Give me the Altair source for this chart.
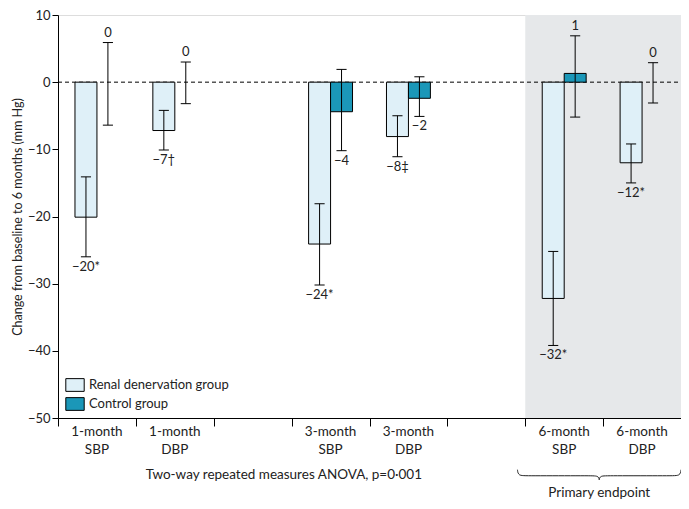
import altair as alt
import pandas as pd

# ---- data ----
slots = ["1-month\nSBP", "1-month\nDBP", "", "3-month\nSBP", "3-month\nDBP", "", "6-month\nSBP", "6-month\nDBP"]
outcomes = ["1-month\nSBP", "1-month\nDBP", "3-month\nSBP", "3-month\nDBP", "6-month\nSBP", "6-month\nDBP"]
groups = ["Renal denervation group", "Control group"]

renal_mean = [-20.1, -7.2, -24.1, -8.1, -32.2, -12.0]
renal_lo = [-26.0, -10.1, -30.2, -11.1, -39.2, -15.0]
renal_hi = [-14.1, -4.2, -18.1, -5.0, -25.2, -9.2]
renal_labels = ["−20*", "−7†", "−24*", "−8‡", "−32*", "−12*"]

control_mean = [0.0, 0.0, -4.4, -2.4, 1.3, 0.0]
control_lo = [-6.4, -3.2, -10.2, -5.1, -5.2, -3.1]
control_hi = [5.9, 3.0, 1.9, 0.8, 6.9, 2.9]
control_labels = ["0", "0", "−4", "−2", "1", "0"]

highlight = ["6-month\nSBP", "6-month\nDBP"]
anova_text = "Two-way repeated measures ANOVA, p=0·001"
primary_text = "Primary endpoint"

FONT = "Lato"
RENAL = "#dff0f8"
CONTROL = "#1b97b8"
BAND = "#e6e8ea"
INK = "#222"

BW = 0.282  # bar width in slot units
rows = []
for i, o in enumerate(outcomes):
    s = slots.index(o)
    c = s + 0.5
    rows.append(dict(group=groups[0], x0=c - BW, x1=c, xc=c - BW / 2, mean=renal_mean[i],
                     lo=renal_lo[i], hi=renal_hi[i], label=renal_labels[i]))
    rows.append(dict(group=groups[1], x0=c, x1=c + BW, xc=c + BW / 2, mean=control_mean[i],
                     lo=control_lo[i], hi=control_hi[i], label=control_labels[i]))
df = pd.DataFrame(rows)
df["cap0"] = df["xc"] - 0.065
df["cap1"] = df["xc"] + 0.065
df["above"] = df["mean"] >= 0

xs = alt.Scale(domain=[0, len(slots)], nice=False, zero=False)
ys = alt.Scale(domain=[-50, 10], nice=False, zero=False)

X = lambda f: alt.X(f, type="quantitative", scale=xs,
                    axis=alt.Axis(values=list(range(len(slots) + 1)), labels=False, title=None,
                                  grid=False, tickSize=8, domainColor="black", tickColor="black"))
Y = lambda f: alt.Y(f, type="quantitative", scale=ys,
                    axis=alt.Axis(values=list(range(-50, 11, 10)), title="Change from baseline to 6 months (mm Hg)",
                                  grid=False, tickSize=6, labelPadding=2, titlePadding=3,
                                  domainColor="black", tickColor="black", labelFont=FONT, titleFont=FONT,
                                  labelFontSize=13, titleFontSize=12.5, labelColor=INK, titleColor=INK,
                                  titleFontWeight="normal"))

# grey band behind primary endpoint
band_df = pd.DataFrame({"x0": [slots.index(highlight[0])], "x1": [slots.index(highlight[-1]) + 1],
                        "y0": [-50], "y1": [10]})
band = alt.Chart(band_df).mark_rect(color=BAND).encode(x=X("x0"), x2="x1", y=Y("y0"), y2="y1")

zero_df = pd.DataFrame({"x0": [0], "x1": [len(slots)], "y": [0]})
zero = alt.Chart(zero_df).mark_rule(color="black", strokeDash=[4, 3], strokeWidth=1).encode(
    x=X("x0"), x2="x1", y=Y("y"))

base = alt.Chart(df)
bars = base.transform_filter("datum.mean != 0").mark_bar(stroke="black", strokeWidth=1).encode(
    x=X("x0"), x2="x1", y=Y("mean"), y2=alt.datum(0),
    color=alt.Color("group:N", scale=alt.Scale(domain=groups, range=[RENAL, CONTROL]),
                    legend=alt.Legend(title=None, orient="none", legendX=9, legendY=362,
                                      symbolType="M-1.3,-0.9H1.3V0.9H-1.3Z", symbolSize=200,
                                      symbolStrokeColor="black", symbolStrokeWidth=1,
                                      symbolOpacity=1, labelFont=FONT, labelFontSize=13,
                                      labelColor=INK, rowPadding=1, labelOffset=6, labelLimit=400)))

err = base.mark_rule(color="black", strokeWidth=1).encode(x=X("xc"), y=Y("lo"), y2="hi")
cap_lo = base.mark_rule(color="black", strokeWidth=1).encode(x=X("cap0"), x2="cap1", y=Y("lo"))
cap_hi = base.mark_rule(color="black", strokeWidth=1).encode(x=X("cap0"), x2="cap1", y=Y("hi"))

lab_below = base.transform_filter("!datum.above").mark_text(
    baseline="top", dy=4, font=FONT, fontSize=13, color=INK).encode(x=X("xc"), y=Y("lo"), text="label")
lab_above = base.transform_filter("datum.above").mark_text(
    baseline="bottom", dy=-3, font=FONT, fontSize=13, color=INK).encode(x=X("xc"), y=Y("hi"), text="label")

# category labels under the axis
cat_df = pd.DataFrame({"name": slots, "x": [i + 0.5 for i in range(len(slots))], "y": [-50] * len(slots)})
cats = alt.Chart(cat_df).mark_text(baseline="top", dy=7, lineBreak="\n", lineHeight=18, font=FONT,
                                   fontSize=13.5, color=INK).encode(x=X("x"), y=Y("y"), text="name")

note_df = pd.DataFrame({"t": [anova_text], "x": [2.9], "y": [-50]})
note = alt.Chart(note_df).mark_text(baseline="middle", dy=57, font=FONT, fontSize=13.5, color=INK).encode(
    x=X("x"), y=Y("y"), text="t")

p0 = slots.index(highlight[0]) - 0.1
p1 = slots.index(highlight[-1]) + 1
pm = (p0 + p1) / 2
y_end, y_mid, y_tip = -57.7, -58.6, -59.2
brace_df = pd.DataFrame({
    "x": [p0, p0 + 0.01, p0 + 0.12, pm - 0.12, pm - 0.01, pm,
          p1, p1 - 0.01, p1 - 0.12, pm + 0.12, pm + 0.01, pm],
    "y": [y_end, y_mid, y_mid, y_mid, y_mid, y_tip,
          y_end, y_mid, y_mid, y_mid, y_mid, y_tip],
    "side": ["l"] * 6 + ["r"] * 6,
    "o": list(range(6)) * 2,
})
brace = alt.Chart(brace_df).mark_line(color=INK, strokeWidth=1, interpolate="basis", clip=False).encode(
    x=X("x"), y=Y("y"), detail="side", order="o")

prim_df = pd.DataFrame({"t": [primary_text], "x": [pm], "y": [-50]})
prim = alt.Chart(prim_df).mark_text(baseline="bottom", dy=82, font=FONT, fontSize=13.5, color=INK).encode(
    x=X("x"), y=Y("y"), text="t")

chart = alt.layer(band, zero, bars, err, cap_lo, cap_hi, lab_below, lab_above, cats, note, brace, prim).properties(
    width=623, height=403,
    autosize=alt.AutoSizeParams(type="none"),
    padding={"left": 50, "top": 7, "right": 0, "bottom": 83},
).configure_view(stroke=None).configure(background="white")

chart.save("out.html", embed_options={"renderer": "svg", "actions": False})
